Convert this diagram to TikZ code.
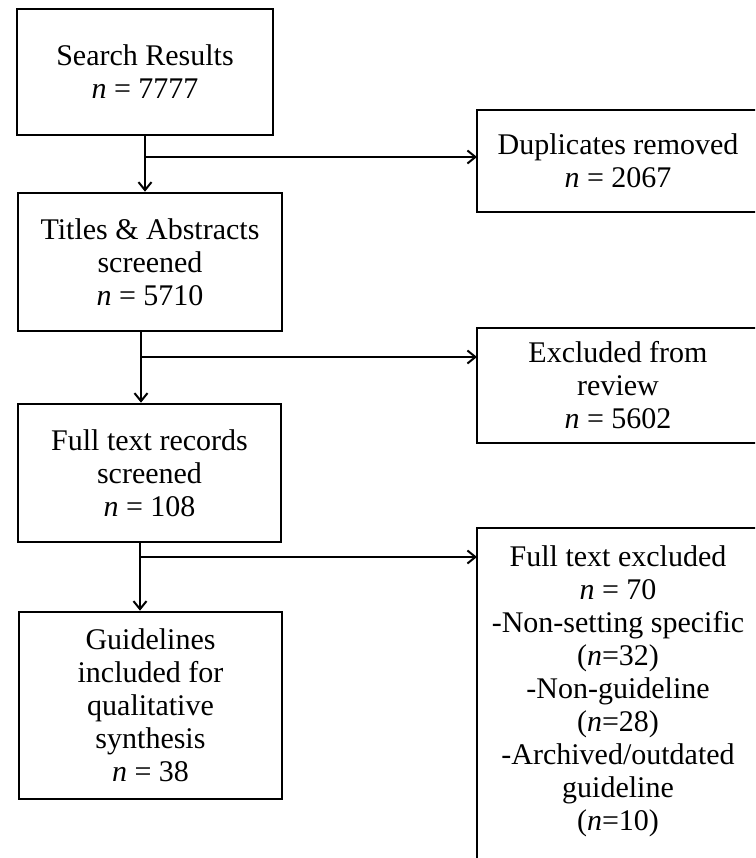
\documentclass[tikz,border=0pt]{standalone}
\usepackage{fontspec}
\setmainfont{Liberation Serif}
\usetikzlibrary{arrows.meta}
\newcommand{\rtext}[1]{\parbox[b]{282pt}{\centering #1}\hspace*{70pt}}
\begin{document}
\begin{tikzpicture}[x=1pt,y=-1pt,
  box/.style={draw, line width=2.6pt, align=center, inner sep=0pt,
    font=\fontsize{30}{33}\selectfont},
  rbox/.style={inner xsep=0pt, outer sep=0pt, anchor=north west,
    font=\fontsize{30}{33}\selectfont},
  edge/.style={line width=2.6pt},
  flow/.style={line width=2pt, -{Straight Barb[length=8pt,width=13pt,line width=2pt]}}]
\useasboundingbox (0,0) rectangle (755,858);
\clip (0,0) rectangle (755,858);
% left column
\node[box, minimum width=256pt, minimum height=126pt] (sr) at (145,72)
  {Search Results\\\textit{n} = 7777};
\node[box, minimum width=264pt, minimum height=138pt] (ta) at (150,262)
  {Titles \& Abstracts\\screened\\\textit{n} = 5710};
\node[box, minimum width=263pt, minimum height=138pt] (ft) at (149.5,473)
  {Full text records\\screened\\\textit{n} = 108};
\node[box, minimum width=263pt, minimum height=187pt] (gl) at (150.5,705.5)
  {Guidelines\\included for\\qualitative\\synthesis\\\textit{n} = 38};
% right column (boxes run past the right edge of the picture)
\node[rbox, inner ysep=0pt, minimum height=102pt] (dup) at (477,110)
  {\rtext{Duplicates removed\\\textit{n} = 2067}};
\node[rbox, inner ysep=0pt, minimum height=115pt] (exc) at (477,328)
  {\rtext{Excluded from\\review\\\textit{n} = 5602}};
\node[rbox, inner ysep=18pt, text depth=60pt] (fte) at (477,528)
  {\rtext{Full text excluded\\\textit{n} = 70\\-Non-setting specific\\(\textit{n}=32)\\-Non-guideline\\(\textit{n}=28)\\-Archived/outdated\\guideline\\(\textit{n}=10)}};
\draw[edge] (dup.north east) -- (dup.north west) -- (dup.south west) -- (dup.south east);
\draw[edge] (exc.north east) -- (exc.north west) -- (exc.south west) -- (exc.south east);
\draw[edge] (fte.north east) -- (fte.north west) -- (fte.south west);
% connectors
\coordinate (j1) at (145,157);
\coordinate (j2) at (141,357);
\coordinate (j3) at (140,557);
\draw[flow] (sr.south -| j1) -- (ta.north -| j1);
\draw[flow] (j1) -- (j1 -| dup.west);
\draw[flow] (ta.south -| j2) -- (ft.north -| j2);
\draw[flow] (j2) -- (j2 -| exc.west);
\draw[flow] (ft.south -| j3) -- (gl.north -| j3);
\draw[flow] (j3) -- (j3 -| fte.west);
\end{tikzpicture}
\end{document}
